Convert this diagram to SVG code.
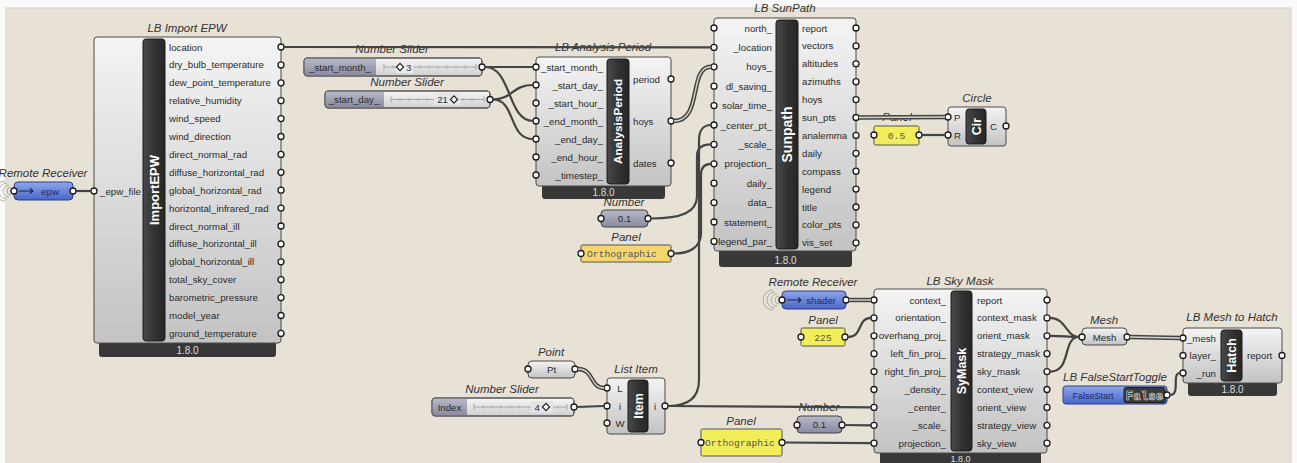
<svg xmlns="http://www.w3.org/2000/svg" width="1297" height="463" viewBox="0 0 1297 463">
<defs>
<linearGradient id="gBody" x1="0" y1="0" x2="0" y2="1"><stop offset="0" stop-color="#f4f4f4"/><stop offset="1" stop-color="#c3c3c3"/></linearGradient>
<linearGradient id="gBar" x1="0" y1="0" x2="1" y2="0"><stop offset="0" stop-color="#4a4a4a"/><stop offset="0.5" stop-color="#333"/><stop offset="1" stop-color="#262626"/></linearGradient>
<linearGradient id="gNum" x1="0" y1="0" x2="0" y2="1"><stop offset="0" stop-color="#b8b8c9"/><stop offset="1" stop-color="#8a8aa0"/></linearGradient>
<linearGradient id="gBlue" x1="0" y1="0" x2="0" y2="1"><stop offset="0" stop-color="#8ea6ec"/><stop offset="1" stop-color="#4a66c6"/></linearGradient>
<linearGradient id="gSlide" x1="0" y1="0" x2="0" y2="1"><stop offset="0" stop-color="#f6f6f6"/><stop offset="1" stop-color="#d0d0d0"/></linearGradient>
</defs>
<style>
.bg{fill:#e7e1d6}
.body{fill:url(#gBody);stroke:#4a4a4a;stroke-width:1}
.bar{fill:url(#gBar);stroke:#1a1a1a;stroke-width:1}
.ver{fill:#383838}
.vt{font:10px "Liberation Sans",sans-serif;fill:#dcdcdc;text-anchor:middle}
.t{font:italic 11.5px "Liberation Sans",sans-serif;fill:#333;text-anchor:middle}
.l{font:9.7px "Liberation Sans",sans-serif;fill:#2a2a2a}
.r{text-anchor:end}
.c{text-anchor:middle}
.bt{font:bold 13px "Liberation Sans",sans-serif;fill:#fff;text-anchor:middle}
.p{fill:#fff;stroke:#1a1a1a;stroke-width:1.3}
.w{fill:none;stroke:#444;stroke-width:2.2}
.wl{fill:none;stroke:#444;stroke-width:4.4}
.wi{fill:none;stroke:#d8d2c8;stroke-width:1.4}
.num{fill:url(#gNum);stroke:#444}
.pan{fill:#f1ee5a;stroke:#555}
.pan2{fill:#f6d66c;stroke:#555}
.pt{font:9.7px "Liberation Mono",monospace;fill:#555}
.rr{fill:url(#gBlue);stroke:#2c3f85}
.bl{fill:#1d2a66}
.sl{fill:url(#gSlide);stroke:#555}
.sll{fill:url(#gNum)}
.trk{stroke:#a8a8a8;stroke-width:1}
.dia{fill:#fff;stroke:#222;stroke-width:1.2}
.arc{fill:none;stroke:#a0a0a0;stroke-width:0.8}
.arr{fill:none;stroke:#1a2550;stroke-width:1.1}
</style>
<rect width="1297" height="463" fill="#fafafa"/>
<rect class="bg" x="5" y="8" width="1286" height="455"/>
<path d="M5,8 H1291 V463" fill="none" stroke="#d4d0c8" stroke-width="1"/>

<g id="rr-epw">
<text class="t" x="43" y="177">Remote Receiver</text>
<path class="arc" d="M11,187 A4,4 0 0 0 11,195 M9,185 A6,6 0 0 0 9,197 M7,183 A8,8 0 0 0 7,199 M5,181 A10,10 0 0 0 5,201"/>
<rect class="rr" x="14" y="182" width="59" height="18" rx="4"/>
<path class="arr" d="M19,191 H33 M30,188.5 L33,191 L30,193.5"/>
<text class="l c bl" x="50" y="194.5">epw</text>
<circle class="p" cx="14" cy="191" r="3"/><circle class="p" cx="73" cy="191" r="3"/>
</g>

<g id="import-epw">
<text class="t" x="187" y="32">LB Import EPW</text>
<rect class="ver" x="99" y="336" width="177" height="21" rx="3"/>
<text class="vt" x="187.5" y="354">1.8.0</text>
<rect class="body" x="94" y="37" width="187" height="306" rx="3"/>
<rect class="bar" x="143" y="39" width="22" height="302" rx="3"/>
<text class="bt" transform="translate(154,190) rotate(-90)" dy="4.5">ImportEPW</text>
<text class="l" x="100" y="194.5">_epw_file</text>
<circle class="p" cx="94" cy="191" r="3"/>
<g class="l">
<text x="169" y="50.5">location</text>
<text x="169" y="68.4">dry_bulb_temperature</text>
<text x="169" y="86.3">dew_point_temperature</text>
<text x="169" y="104.2">relative_humidity</text>
<text x="169" y="122.1">wind_speed</text>
<text x="169" y="140">wind_direction</text>
<text x="169" y="157.9">direct_normal_rad</text>
<text x="169" y="175.8">diffuse_horizontal_rad</text>
<text x="169" y="193.7">global_horizontal_rad</text>
<text x="169" y="211.6">horizontal_infrared_rad</text>
<text x="169" y="229.5">direct_normal_ill</text>
<text x="169" y="247.4">diffuse_horizontal_ill</text>
<text x="169" y="265.3">global_horizontal_ill</text>
<text x="169" y="283.2">total_sky_cover</text>
<text x="169" y="301.1">barometric_pressure</text>
<text x="169" y="319">model_year</text>
<text x="169" y="336.9">ground_temperature</text>
</g>
<g>
<circle class="p" cx="281" cy="47" r="3"/><circle class="p" cx="281" cy="64.9" r="3"/><circle class="p" cx="281" cy="82.8" r="3"/><circle class="p" cx="281" cy="100.7" r="3"/><circle class="p" cx="281" cy="118.6" r="3"/><circle class="p" cx="281" cy="136.5" r="3"/><circle class="p" cx="281" cy="154.4" r="3"/><circle class="p" cx="281" cy="172.3" r="3"/><circle class="p" cx="281" cy="190.2" r="3"/><circle class="p" cx="281" cy="208.1" r="3"/><circle class="p" cx="281" cy="226" r="3"/><circle class="p" cx="281" cy="243.9" r="3"/><circle class="p" cx="281" cy="261.8" r="3"/><circle class="p" cx="281" cy="279.7" r="3"/><circle class="p" cx="281" cy="297.6" r="3"/><circle class="p" cx="281" cy="315.5" r="3"/><circle class="p" cx="281" cy="333.4" r="3"/>
</g>
</g>

<g id="slider-start-month">
<text class="t" x="392" y="53">Number Slider</text>
<rect class="sl" x="304" y="58" width="178" height="18" rx="3"/>
<path class="sll" d="M307,58.5 H376 V75.5 H307 A2.5,2.5 0 0 1 304.5,73 V61 A2.5,2.5 0 0 1 307,58.5 Z"/>
<rect x="304" y="58" width="178" height="18" rx="3" fill="none" stroke="#555"/>
<text class="l c" x="340" y="70.5">_start_month_</text>
<path class="trk" d="M384,67 H476 M384,64 V70 M393,65.5 V68.5 M402,65.5 V68.5 M411,65.5 V68.5 M420,65.5 V68.5 M429,65.5 V68.5 M438,65.5 V68.5 M447,65.5 V68.5 M456,65.5 V68.5 M465,65.5 V68.5 M476,64 V70"/>
<rect x="396" y="61" width="17" height="12" fill="#ececec"/>
<rect class="dia" x="397.5" y="64.5" width="5" height="5" transform="rotate(45 400 67)"/>
<text class="l" x="406" y="70.5">3</text>
<circle class="p" cx="482" cy="67" r="3"/>
</g>

<g id="slider-start-day">
<text class="t" x="407" y="86">Number Slider</text>
<rect class="sl" x="325" y="91" width="165" height="17" rx="3"/>
<path class="sll" d="M328,91.5 H384 V107.5 H328 A2.5,2.5 0 0 1 325.5,105 V94 A2.5,2.5 0 0 1 328,91.5 Z"/>
<rect x="325" y="91" width="165" height="17" rx="3" fill="none" stroke="#555"/>
<text class="l c" x="354" y="103">_start_day_</text>
<path class="trk" d="M391,99.5 H484 M391,96.5 V102.5 M400,98 V101 M409,98 V101 M418,98 V101 M427,98 V101 M436,98 V101 M463,98 V101 M472,98 V101 M484,96.5 V102.5"/>
<rect x="434" y="93" width="26" height="12" fill="#e6e6e6"/>
<text class="l r" x="448" y="103">21</text>
<rect class="dia" x="451.5" y="97" width="5" height="5" transform="rotate(45 454 99.5)"/>
<circle class="p" cx="490" cy="99.5" r="3"/>
</g>

<g id="number-top">
<text class="t" x="624" y="206">Number</text>
<rect class="num" x="601" y="210" width="47" height="17" rx="4"/>
<text class="l c" x="624.5" y="222" fill="#333">0.1</text>
<circle class="p" cx="601" cy="218.5" r="3"/><circle class="p" cx="648" cy="218.5" r="3"/>
</g>

<g id="analysis-period">
<text class="t" x="603" y="51">LB Analysis Period</text>
<rect class="ver" x="542" y="180" width="123" height="19" rx="3"/>
<text class="vt" x="603.5" y="196">1.8.0</text>
<rect class="body" x="536" y="57" width="135" height="129" rx="3"/>
<rect class="bar" x="607" y="59" width="22" height="125" rx="3"/>
<text class="bt" style="font-size:11.8px" transform="translate(618,121.5) rotate(-90)" dy="4.3">AnalysisPeriod</text>
<g class="l r">
<text x="603" y="70.5">_start_month_</text>
<text x="603" y="88.5">_start_day_</text>
<text x="603" y="106.5">_start_hour_</text>
<text x="603" y="124.5">_end_month_</text>
<text x="603" y="142.5">_end_day_</text>
<text x="603" y="160.5">_end_hour_</text>
<text x="603" y="178.5">_timestep_</text>
</g>
<g class="l">
<text x="633" y="82.5">period</text>
<text x="633" y="124.5">hoys</text>
<text x="633" y="166.5">dates</text>
</g>
<circle class="p" cx="536" cy="67" r="3"/><circle class="p" cx="536" cy="85" r="3"/><circle class="p" cx="536" cy="103" r="3"/><circle class="p" cx="536" cy="121" r="3"/><circle class="p" cx="536" cy="139" r="3"/><circle class="p" cx="536" cy="157" r="3"/><circle class="p" cx="536" cy="175" r="3"/>
<circle class="p" cx="671" cy="79" r="3"/><circle class="p" cx="671" cy="121" r="3"/><circle class="p" cx="671" cy="163" r="3"/>
</g>

<g id="panel-top">
<text class="t" x="626" y="241">Panel</text>
<rect class="pan2" x="581" y="245" width="90" height="17" rx="1.5"/>
<text class="pt" x="587" y="257">Orthographic</text>
<circle class="p" cx="581" cy="253.5" r="3"/><circle class="p" cx="671" cy="253.5" r="3"/>
</g>

<g id="sunpath">
<text class="t" x="785" y="12">LB SunPath</text>
<rect class="ver" x="719" y="245" width="133" height="22" rx="3"/>
<text class="vt" x="785.5" y="264">1.8.0</text>
<rect class="body" x="714" y="18" width="142" height="233" rx="3"/>
<rect class="bar" x="776" y="20" width="22" height="229" rx="3"/>
<text class="bt" style="font-size:14px" transform="translate(787,134.5) rotate(-90)" dy="5">Sunpath</text>
<g class="l r">
<text x="772" y="31.5">north_</text>
<text x="772" y="50.9">_location</text>
<text x="772" y="70.3">hoys_</text>
<text x="772" y="89.7">dl_saving_</text>
<text x="772" y="109.1">solar_time_</text>
<text x="772" y="128.5">_center_pt_</text>
<text x="772" y="147.9">_scale_</text>
<text x="772" y="167.3">projection_</text>
<text x="772" y="186.7">daily_</text>
<text x="772" y="206.1">data_</text>
<text x="772" y="225.5">statement_</text>
<text x="772" y="244.9">legend_par_</text>
</g>
<g class="l">
<text x="802" y="31.5">report</text>
<text x="802" y="49.4">vectors</text>
<text x="802" y="67.3">altitudes</text>
<text x="802" y="85.2">azimuths</text>
<text x="802" y="103.1">hoys</text>
<text x="802" y="121">sun_pts</text>
<text x="802" y="138.9">analemma</text>
<text x="802" y="156.8">daily</text>
<text x="802" y="174.7">compass</text>
<text x="802" y="192.6">legend</text>
<text x="802" y="210.5">title</text>
<text x="802" y="228.4">color_pts</text>
<text x="802" y="246.3">vis_set</text>
</g>
<circle class="p" cx="714" cy="28" r="3"/><circle class="p" cx="714" cy="47.4" r="3"/><circle class="p" cx="714" cy="66.8" r="3"/><circle class="p" cx="714" cy="86.2" r="3"/><circle class="p" cx="714" cy="105.6" r="3"/><circle class="p" cx="714" cy="125" r="3"/><circle class="p" cx="714" cy="144.4" r="3"/><circle class="p" cx="714" cy="163.8" r="3"/><circle class="p" cx="714" cy="183.2" r="3"/><circle class="p" cx="714" cy="202.6" r="3"/><circle class="p" cx="714" cy="222" r="3"/><circle class="p" cx="714" cy="241.4" r="3"/>
<circle class="p" cx="856" cy="28" r="3"/><circle class="p" cx="856" cy="45.9" r="3"/><circle class="p" cx="856" cy="63.8" r="3"/><circle class="p" cx="856" cy="81.7" r="3"/><circle class="p" cx="856" cy="99.6" r="3"/><circle class="p" cx="856" cy="117.5" r="3"/><circle class="p" cx="856" cy="135.4" r="3"/><circle class="p" cx="856" cy="153.3" r="3"/><circle class="p" cx="856" cy="171.2" r="3"/><circle class="p" cx="856" cy="189.1" r="3"/><circle class="p" cx="856" cy="207" r="3"/><circle class="p" cx="856" cy="224.9" r="3"/><circle class="p" cx="856" cy="242.8" r="3"/>
</g>

<g id="panel-radius">
<text class="t" x="897" y="121">Panel</text>
<rect class="pan" x="874" y="126" width="45" height="19" rx="1.5"/>
<text class="pt" x="896.5" y="139" text-anchor="middle">0.5</text>
<circle class="p" cx="874" cy="135" r="3"/><circle class="p" cx="919" cy="135" r="3"/>
</g>

<g id="circle">
<text class="t" x="977" y="102">Circle</text>
<rect class="body" x="948" y="107" width="58" height="39" rx="3"/>
<rect class="bar" x="966" y="109" width="20" height="35" rx="3"/>
<text class="bt" style="font-size:12.5px" transform="translate(976,126.5) rotate(-90)" dy="4.5">Cir</text>
<text class="l" x="954" y="120.5">P</text>
<text class="l" x="954" y="138.5">R</text>
<text class="l" x="990" y="130">C</text>
<circle class="p" cx="948" cy="117" r="3"/><circle class="p" cx="948" cy="135" r="3"/><circle class="p" cx="1006" cy="126" r="3"/>
</g>

<g id="rr-shader">
<text class="t" x="813" y="286">Remote Receiver</text>
<path class="arc" d="M779,296 A4,4 0 0 0 779,304 M777,294 A6,6 0 0 0 777,306 M775,292 A8,8 0 0 0 775,308 M773,290 A10,10 0 0 0 773,310"/>
<rect class="rr" x="782" y="291" width="64" height="18" rx="4"/>
<path class="arr" d="M787,300 H801 M798,297.5 L801,300 L798,302.5"/>
<text class="l c bl" x="821" y="303.5">shader</text>
<circle class="p" cx="782" cy="300" r="3"/><circle class="p" cx="846" cy="300" r="3"/>
</g>

<g id="panel-225">
<text class="t" x="823" y="324">Panel</text>
<rect class="pan" x="801" y="328" width="44" height="18" rx="1.5"/>
<text class="pt" x="823" y="340.5" text-anchor="middle">225</text>
<circle class="p" cx="801" cy="337" r="3"/><circle class="p" cx="845" cy="337" r="3"/>
</g>

<g id="number-bottom">
<text class="t" x="819" y="411">Number</text>
<rect class="num" x="797" y="416" width="45" height="17" rx="4"/>
<text class="l c" x="819.5" y="428" fill="#333">0.1</text>
<circle class="p" cx="797" cy="425" r="3"/><circle class="p" cx="842" cy="425" r="3"/>
</g>

<g id="panel-bottom">
<text class="t" x="741" y="425">Panel</text>
<rect class="pan" x="701" y="429" width="81" height="27" rx="1.5"/>
<text class="pt" x="705" y="445.5">Orthographic</text>
<circle class="p" cx="701" cy="442.5" r="3"/><circle class="p" cx="782" cy="442.5" r="3"/>
</g>

<g id="sky-mask">
<text class="t" x="960" y="285">LB Sky Mask</text>
<rect class="ver" x="880" y="447" width="161" height="22" rx="3"/>
<text class="vt" x="960.5" y="462" style="font-size:9px">1.8.0</text>
<rect class="body" x="874" y="289" width="173" height="164" rx="3"/>
<rect class="bar" x="951" y="291" width="21" height="160" rx="3"/>
<text class="bt" style="font-size:12.5px" transform="translate(961.5,371) rotate(-90)" dy="4.5">SyMask</text>
<g class="l r">
<text x="946" y="303.5">context_</text>
<text x="946" y="321.4">orientation_</text>
<text x="946" y="339.3">overhang_proj_</text>
<text x="946" y="357.2">left_fin_proj_</text>
<text x="946" y="375.1">right_fin_proj_</text>
<text x="946" y="393">_density_</text>
<text x="946" y="410.9">_center_</text>
<text x="946" y="428.8">_scale_</text>
<text x="946" y="446.7">projection_</text>
</g>
<g class="l">
<text x="977" y="303.5">report</text>
<text x="977" y="321.4">context_mask</text>
<text x="977" y="339.3">orient_mask</text>
<text x="977" y="357.2">strategy_mask</text>
<text x="977" y="375.1">sky_mask</text>
<text x="977" y="393">context_view</text>
<text x="977" y="410.9">orient_view</text>
<text x="977" y="428.8">strategy_view</text>
<text x="977" y="446.7">sky_view</text>
</g>
<circle class="p" cx="874" cy="300" r="3"/><circle class="p" cx="874" cy="317.9" r="3"/><circle class="p" cx="874" cy="335.8" r="3"/><circle class="p" cx="874" cy="353.7" r="3"/><circle class="p" cx="874" cy="371.6" r="3"/><circle class="p" cx="874" cy="389.5" r="3"/><circle class="p" cx="874" cy="407.4" r="3"/><circle class="p" cx="874" cy="425.3" r="3"/><circle class="p" cx="874" cy="443.2" r="3"/>
<circle class="p" cx="1047" cy="300" r="3"/><circle class="p" cx="1047" cy="317.9" r="3"/><circle class="p" cx="1047" cy="335.8" r="3"/><circle class="p" cx="1047" cy="353.7" r="3"/><circle class="p" cx="1047" cy="371.6" r="3"/><circle class="p" cx="1047" cy="389.5" r="3"/><circle class="p" cx="1047" cy="407.4" r="3"/><circle class="p" cx="1047" cy="425.3" r="3"/><circle class="p" cx="1047" cy="443.2" r="3"/>
</g>

<g id="mesh">
<text class="t" x="1104" y="324">Mesh</text>
<rect class="body" x="1082" y="328" width="45" height="17" rx="4"/>
<text class="l c" x="1104.5" y="340.5">Mesh</text>
<circle class="p" cx="1082" cy="337" r="3"/><circle class="p" cx="1127" cy="337" r="3"/>
</g>

<g id="mesh-to-hatch">
<text class="t" x="1232" y="321">LB Mesh to Hatch</text>
<rect class="ver" x="1188" y="377" width="89" height="19" rx="3"/>
<text class="vt" x="1232.5" y="393">1.8.0</text>
<rect class="body" x="1183" y="328" width="99" height="55" rx="3"/>
<rect class="bar" x="1221" y="330" width="21" height="51" rx="3"/>
<text class="bt" style="font-size:12.5px" transform="translate(1231.5,355.5) rotate(-90)" dy="4.5">Hatch</text>
<g class="l r">
<text x="1216" y="341.5">_mesh</text>
<text x="1216" y="359">layer_</text>
<text x="1216" y="376.5">_run</text>
</g>
<text class="l" x="1247" y="359">report</text>
<circle class="p" cx="1183" cy="338" r="3"/><circle class="p" cx="1183" cy="355.5" r="3"/><circle class="p" cx="1183" cy="373" r="3"/><circle class="p" cx="1282" cy="355.5" r="3"/>
</g>

<g id="false-start-toggle">
<text class="t" x="1115" y="381">LB FalseStartToggle</text>
<rect class="rr" x="1063" y="386" width="104" height="18" rx="3"/>
<rect x="1124" y="387.5" width="41" height="15" rx="2" fill="#3a3a3a" stroke="#222"/>
<text x="1093" y="398.5" style="font:9px 'Liberation Sans',sans-serif" class="c bl">FalseStart</text>
<text x="1144.5" y="399.5" style="font:bold 12.5px 'Liberation Mono',monospace;fill:#2a2a2a;stroke:#cfcfcf;stroke-width:0.7" text-anchor="middle">False</text>
<circle class="p" cx="1167" cy="395" r="3"/>
</g>

<g id="point">
<text class="t" x="551" y="356">Point</text>
<rect class="body" x="528" y="361" width="47" height="17" rx="4"/>
<text class="l c" x="551.5" y="373">Pt</text>
<circle class="p" cx="528" cy="369" r="3"/><circle class="p" cx="575" cy="369" r="3"/>
</g>

<g id="slider-index">
<text class="t" x="502" y="393">Number Slider</text>
<rect class="sl" x="432" y="398" width="142" height="18" rx="3"/>
<path class="sll" d="M435,398.5 H467 V415.5 H435 A2.5,2.5 0 0 1 432.5,413 V401 A2.5,2.5 0 0 1 435,398.5 Z"/>
<rect x="432" y="398" width="142" height="18" rx="3" fill="none" stroke="#555"/>
<text class="l c" x="449.5" y="410.5">Index</text>
<path class="trk" d="M474,407 H567 M474,404 V410 M483,405.5 V408.5 M492,405.5 V408.5 M501,405.5 V408.5 M510,405.5 V408.5 M519,405.5 V408.5 M528,405.5 V408.5 M558,405.5 V408.5 M567,404 V410"/>
<rect x="531" y="401" width="22" height="12" fill="#e4e4e4"/>
<text class="l r" x="540" y="410.5">4</text>
<rect class="dia" x="543.5" y="404.5" width="5" height="5" transform="rotate(45 546 407)"/>
<circle class="p" cx="574" cy="407" r="3"/>
</g>

<g id="list-item">
<text class="t" x="636" y="373">List Item</text>
<rect class="body" x="607" y="378" width="58" height="56" rx="3"/>
<rect class="bar" x="628" y="380" width="20" height="52" rx="3"/>
<text class="bt" style="font-size:12.5px" transform="translate(638,406) rotate(-90)" dy="4.5">Item</text>
<text class="l c" x="620" y="392">L</text>
<text class="l c" x="620" y="409.5">i</text>
<text class="l c" x="620" y="427">W</text>
<text class="l c" x="655" y="409.5">i</text>
<circle class="p" cx="607" cy="388" r="3"/><circle class="p" cx="607" cy="406" r="3"/><circle class="p" cx="607" cy="423" r="3"/><circle class="p" cx="665" cy="406" r="3"/>
</g>

<g id="connectors">
<path class="w" d="M284,47 L711,47.4"/>
<path class="w" d="M76,191 L91,191"/>
<path class="w" d="M485,67 L533,67"/>
<path class="w" d="M485,67 C512,67 507,121 533,121"/>
<path class="w" d="M493,99.5 C512,99.5 512,85 533,85"/>
<path class="w" d="M493,99.5 C516,99.5 508,139 533,139"/>
<path class="wl" d="M674,121 C703,121 688,66.8 711,66.8"/><path class="wi" d="M674,121 C703,121 688,66.8 711,66.8"/>
<path class="w" d="M651,218.5 C682,218.5 697,212 697,196 L697,156 C697,148 702,144.4 711,144.4"/>
<path class="w" d="M674,253.5 C690,253.5 701,247 701,233 L701,175 C701,167 705,163.8 711,163.8"/>
<path class="w" d="M668,406 C688,406 699,398 699,380 L699,140 C699,130 704,125 711,125"/>
<path class="w" d="M668,406 C760,406 780,407.4 871,407.4"/>
<path class="wl" d="M859,117.5 L945,117"/><path class="wi" d="M859,117.5 L945,117"/>
<path class="w" d="M922,135 L945,135"/>
<path class="wl" d="M849,300 L871,300"/><path class="wi" d="M849,300 L871,300"/>
<path class="w" d="M848,337 C863,337 857,317.9 871,317.9"/>
<path class="w" d="M845,425 L871,425.3"/>
<path class="w" d="M785,442.5 L871,443.2"/>
<path class="w" d="M1050,317.9 C1066,317.9 1066,337 1079,337"/>
<path class="w" d="M1050,335.8 C1064,335.8 1066,337 1079,337"/>
<path class="w" d="M1050,371.6 C1072,371.6 1062,337 1079,337"/>
<path class="wl" d="M1130,337 L1180,338"/><path class="wi" d="M1130,337 L1180,338"/>
<path class="w" d="M1170,395 C1181,395 1171,373 1180,373"/>
<path class="wl" d="M578,369 C594,369 590,388 604,388"/><path class="wi" d="M578,369 C594,369 590,388 604,388"/>
<path class="w" d="M577,407 L604,406"/>
</g>
</svg>
